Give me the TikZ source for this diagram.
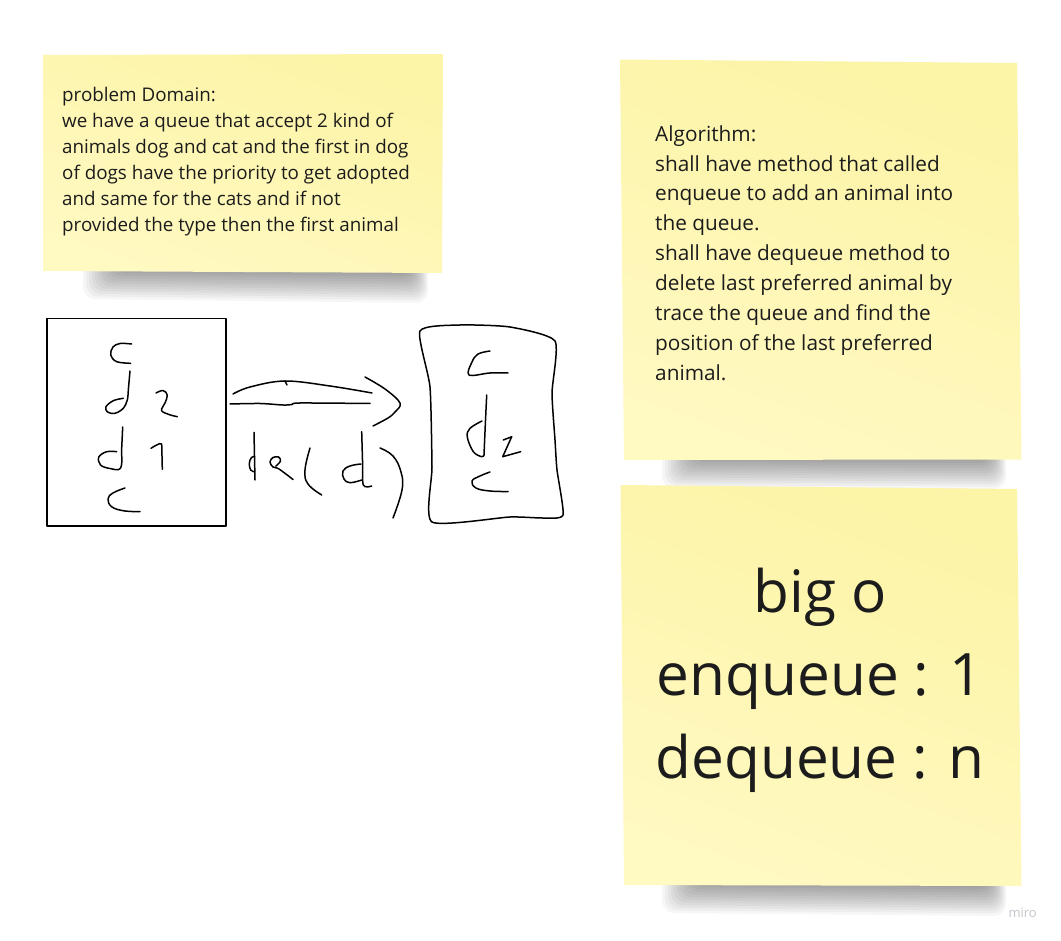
\documentclass[tikz,border=0pt]{standalone}
\usepackage{fontspec}
\setmainfont{Open Sans}
\definecolor{notetop}{HTML}{FCF4A6}
\definecolor{notebot}{HTML}{FFF9C2}
\definecolor{ink}{HTML}{1C1C1C}
\definecolor{mirogray}{HTML}{C4C4CC}
\tikzset{
  hand/.style={draw=black, line width=1.5pt, line cap=round, line join=round},
  notetext/.style={inner sep=0pt, text=ink, align=left, anchor=base west},
}
\newcommand{\noteshadow}[4]{% x0 x1 bottom-left bottom-right
  \foreach \k in {0,...,11}{
    \fill[black, opacity=0.035, rounded corners=12pt]
      (#1+40+3*\k, #3-20) -- (#2-15-1.5*\k, #4-20) -- (#2-15-1.5*\k, #4+30-2.6*\k) -- (#1+40+3*\k, #3+28-2.6*\k) -- cycle;
  }
}
\begin{document}
\begin{tikzpicture}[x=1pt,y=-1pt]
\fill[white] (0,0) rectangle (1061,941);
\useasboundingbox (0,0) rectangle (1061,941);

% shadows
\noteshadow{43}{443}{271}{273}
\noteshadow{622}{1021}{460}{459}
\noteshadow{622}{1021}{885}{886}

% sticky notes
\shade[top color=notetop, bottom color=notebot, shading angle=-20] (43,55) -- (443,54) -- (442,273) -- (43,271) -- cycle;
\shade[top color=notetop, bottom color=notebot, shading angle=-20] (620,59.5) -- (1017,63) -- (1021.5,459.5) -- (624,460) -- cycle;
\shade[top color=notetop, bottom color=notebot, shading angle=-20] (620.5,485) -- (1017,489) -- (1021.5,886) -- (624,885) -- cycle;

% texts (base anchor = baseline of last line)
\node[notetext, font=\fontsize{18.8}{26}\selectfont] (pd) at (62,231.5) {problem Domain:\\
we have a queue that accept 2 kind of\\
animals dog and cat and the first in dog\\
of dogs have the priority to get adopted\\
and same for the cats and if not\\
provided the type then the first animal};

\node[notetext, font=\fontsize{20.8}{30}\selectfont] (alg) at (655,381) {Algorithm:\\
shall have method that called\\
enqueue to add an animal into\\
the queue.\\
shall have dequeue method to\\
delete last preferred animal by\\
trace the queue and find the\\
position of the last preferred\\
animal.};

\node[inner sep=0pt, text=ink, align=center, anchor=base, font=\fontsize{58.5}{83.2}\selectfont] (bigo) at (820,778.4) {big o\\enqueue : 1\\dequeue : n};

\node[inner sep=0pt, text=mirogray, anchor=base east, font=\fontsize{13}{13}\selectfont] (miro) at (1037,917) {miro};

% ---- hand drawing: first box
\draw[hand, line width=1.6pt] (47,318.5) rectangle (226,526);
% c
\draw[hand] plot[smooth, tension=0.6] coordinates {(131.7,344) (120,343.5) (113,347) (110.7,355) (116.7,361.7) (130.7,363.3)};
% d
\draw[hand] plot[smooth, tension=0.6] coordinates {(130,371) (128.5,388) (127.3,400) (123.3,408.3) (115,413.3) (107.5,412) (106,406.7) (113.3,400.7) (123.3,398.3)};
% 2
\draw[hand] plot[smooth, tension=0.6] coordinates {(156,393) (163,390.5) (167.3,395) (165,403) (161.5,410.5) (169,414.5) (177.3,416.7)};
% d
\draw[hand] plot[smooth, tension=0.6] coordinates {(122.7,427) (121.7,448) (120.7,468) (110,468.5) (100.5,465) (98.8,457) (106.7,451.7) (116.7,451.7)};
% 1
\draw[hand] plot[smooth, tension=0.5] coordinates {(151,448.3) (156.7,445) (161.5,444) (162,456) (162.3,469.3)};
% c
\draw[hand] plot[smooth, tension=0.7] coordinates {(125,488) (113,493) (108,499) (112,507) (125,511) (140,511.5)};

% arrow
\draw[hand] plot[smooth, tension=0.6] coordinates {(233,394) (250,387) (285,381) (330,386) (372,393)};
\draw[hand] (285,381) -- (287,385);
\draw[hand] plot[smooth, tension=0.5] coordinates {(230,404) (260,403.5) (283,405) (292,404.5) (300,403) (370,403.5)};
\draw[hand] plot[smooth, tension=0.6] coordinates {(365,377) (385,389) (400,403) (395,412) (388,418) (373,426)};

% dx(d)
\draw[hand] plot[smooth] coordinates {(254,432.3) (254.5,456) (255,480)};
\draw[hand] plot[smooth, tension=0.7] coordinates {(254.5,456.7) (251.5,457.5) (249.3,463.3) (250.7,470) (254.5,471.7)};
\draw[hand] plot[smooth, tension=0.6] coordinates {(276,466) (280.5,461) (278.5,457) (273,457.5) (270,462) (273,467) (279,469) (293,479.5)};
\draw[hand] plot[smooth, tension=0.7] coordinates {(310,448) (305,470) (308,484) (321.7,495)};
\draw[hand] plot[smooth, tension=0.5] coordinates {(361.7,431.7) (362.5,460) (363.3,485) (371.7,486)};
\draw[hand] plot[smooth, tension=0.7] coordinates {(361,464) (350,466) (343,471) (344,479) (350,482.7) (361.7,480)};
\draw[hand] plot[smooth, tension=0.7] coordinates {(380,448) (393,456) (401,472) (402,490) (393,518)};

% second box
\draw[hand] plot[smooth cycle, tension=0.35] coordinates {(420,331) (460,325) (510,327) (555,341) (552,393) (555,440) (557,470) (563,515) (543,518) (510,517) (432,522) (432,467) (430,387)};
\draw[hand] plot[smooth, tension=0.6] coordinates {(490,351) (478,354) (472,362) (469,375) (490,373) (508,373)};
\draw[hand] plot[smooth] coordinates {(486.7,395) (485.3,425) (484,455)};
\draw[hand] plot[smooth, tension=0.6] coordinates {(482,421) (470,428.3) (467.3,437) (473.3,451.7) (481.7,456.7) (484,455)};
\draw[hand] plot[tension=0.5] coordinates {(503.3,440) (511.7,436.7) (502.7,456.7) (520.7,451.7)};
\draw[hand] plot[smooth, tension=0.7] coordinates {(490,472) (480,476) (472,481) (476,488) (490,491) (508,491.5)};
\end{tikzpicture}
\end{document}
